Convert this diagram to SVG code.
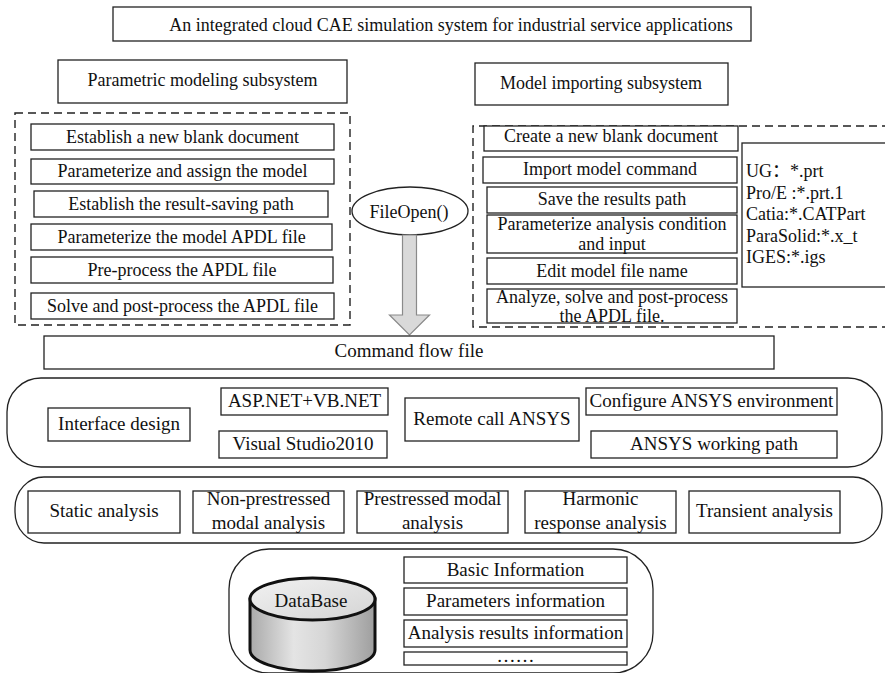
<svg xmlns="http://www.w3.org/2000/svg" width="885" height="673" viewBox="0 0 885 673">
<defs>
<style>
text{font-family:"Liberation Serif","Times New Roman","Noto Sans CJK SC",serif;fill:#111;}
.t{font-size:18px;text-anchor:middle;}
.l{font-size:19px;text-anchor:middle;}
.b{fill:#fff;stroke:#222;stroke-width:1.3;}
.d{fill:none;stroke:#222;stroke-width:1.4;stroke-dasharray:8,5;}
.c{fill:#fff;stroke:#222;stroke-width:1.3;}
</style>
<linearGradient id="side" x1="0" y1="0" x2="1" y2="0">
<stop offset="0" stop-color="#a9a9a9"/>
<stop offset="0.35" stop-color="#e4e4e4"/>
<stop offset="0.6" stop-color="#d6d6d6"/>
<stop offset="1" stop-color="#9e9e9e"/>
</linearGradient>
<linearGradient id="top" x1="0" y1="0" x2="1" y2="1">
<stop offset="0" stop-color="#f2f2f2"/>
<stop offset="1" stop-color="#d4d4d4"/>
</linearGradient>
</defs>
<rect width="885" height="673" fill="#fff"/>

<g id="title"><rect class="b" x="113" y="7" width="638" height="34"/><text class="t" x="451" y="31">An integrated cloud CAE simulation system for industrial service applications</text></g>

<g id="param-subsystem"><rect class="b" x="58" y="60" width="289" height="43"/><text class="t" x="202.5" y="86">Parametric modeling subsystem</text></g>
<g id="param-group"><rect class="d" x="15" y="113" width="335" height="212"/></g>
<g id="p1"><rect class="b" x="31" y="124" width="303" height="26"/><text class="t" x="182.5" y="143">Establish a new blank document</text></g>
<g id="p2"><rect class="b" x="31" y="159" width="303" height="25"/><text class="t" x="182.5" y="177">Parameterize and assign the model</text></g>
<g id="p3"><rect class="b" x="34" y="191" width="294" height="26"/><text class="t" x="181" y="210">Establish the result-saving path</text></g>
<g id="p4"><rect class="b" x="31" y="224" width="301" height="26"/><text class="t" x="181.5" y="243">Parameterize the model APDL file</text></g>
<g id="p5"><rect class="b" x="31" y="257" width="302" height="26"/><text class="t" x="182" y="276">Pre-process the APDL file</text></g>
<g id="p6"><rect class="b" x="31" y="293" width="303" height="26"/><text class="t" x="182.5" y="312">Solve and post-process the APDL file</text></g>

<g id="fileopen"><ellipse class="b" cx="410" cy="211" rx="58" ry="24"/><text class="t" x="409" y="218">FileOpen()</text></g>

<g id="import-subsystem"><rect class="b" x="475" y="63" width="253" height="42"/><text class="t" x="601" y="89">Model importing subsystem</text></g>
<g id="import-group"><path class="d" d="M890,126 H473 V327 H890"/></g>
<g id="m1"><rect class="b" x="484" y="126" width="254" height="25"/><text class="t" x="611" y="142">Create a new blank document</text></g>
<g id="m2"><rect class="b" x="483" y="157" width="254" height="26"/><text class="t" x="610" y="175">Import model command</text></g>
<g id="m3"><rect class="b" x="487" y="187" width="250" height="26"/><text class="t" x="612" y="205">Save the results path</text></g>
<g id="m4"><rect class="b" x="487" y="215" width="250" height="38"/><text class="t" x="612" y="230">Parameterize analysis condition</text><text class="t" x="612" y="250">and input</text></g>
<g id="m5"><rect class="b" x="487" y="258" width="250" height="26"/><text class="t" x="612" y="277">Edit model file name</text></g>
<g id="m6"><rect class="b" x="487" y="289" width="250" height="34"/><text class="t" x="612" y="303">Analyze, solve and post-process</text><text class="t" x="612" y="322">the APDL file.</text></g>
<g id="formats"><rect class="b" x="742" y="143" width="150" height="144"/>
<text font-size="18" x="746" y="177">UG：*.prt</text>
<text font-size="18" x="746" y="199">Pro/E :*.prt.1</text>
<text font-size="18" x="746" y="220">Catia:*.CATPart</text>
<text font-size="18" x="746" y="242">ParaSolid:*.x_t</text>
<text font-size="18" x="746" y="263">IGES:*.igs</text></g>

<g id="connectors"><path d="M402.5,235 V315 H389.5 L409.5,335 L429.5,315 H416.5 V235 Z" fill="#d9d9d9" stroke="#8a8a8a" stroke-width="1.2"/></g>

<g id="command-flow"><rect class="b" x="44" y="336" width="730" height="33"/><text class="l" x="409" y="357">Command flow file</text></g>

<g id="platform"><rect class="c" x="7" y="378" width="875" height="89" rx="34" ry="34"/></g>
<g id="interface"><rect class="b" x="48" y="408" width="142" height="33"/><text class="l" x="119" y="430">Interface design</text></g>
<g id="asp"><rect class="b" x="221" y="388" width="167" height="27"/><text class="l" x="304.5" y="407">ASP.NET+VB.NET</text></g>
<g id="vs"><rect class="b" x="219" y="431" width="168" height="27"/><text class="l" x="303" y="450">Visual Studio2010</text></g>
<g id="remote"><rect class="b" x="405" y="398" width="174" height="43"/><text class="l" x="492" y="425">Remote call ANSYS</text></g>
<g id="configure"><rect class="b" x="586" y="388" width="251" height="27"/><text class="l" x="711.5" y="407">Configure ANSYS environment</text></g>
<g id="workpath"><rect class="b" x="591" y="431" width="246" height="27"/><text class="l" x="714" y="450">ANSYS working path</text></g>

<g id="analyses"><rect class="c" x="15" y="477" width="867" height="66" rx="29" ry="31"/></g>
<g id="a1"><rect class="b" x="28" y="491" width="152" height="42"/><text class="l" x="104" y="517">Static analysis</text></g>
<g id="a2"><rect class="b" x="193" y="491" width="151" height="42"/><text class="l" x="268.5" y="505">Non-prestressed</text><text class="l" x="268.5" y="529">modal analysis</text></g>
<g id="a3"><rect class="b" x="357" y="491" width="151" height="42"/><text class="l" x="432.5" y="505">Prestressed modal</text><text class="l" x="432.5" y="529">analysis</text></g>
<g id="a4"><rect class="b" x="525" y="491" width="151" height="42"/><text class="l" x="600.5" y="505">Harmonic</text><text class="l" x="600.5" y="529">response analysis</text></g>
<g id="a5"><rect class="b" x="689" y="491" width="151" height="42"/><text class="l" x="764.5" y="517">Transient analysis</text></g>

<g id="db-group"><rect class="c" x="229" y="549" width="424" height="124" rx="40" ry="40"/></g>
<g id="database">
<path d="M250,599 V650 A62.5,21 0 0 0 375,650 V599 Z" fill="url(#side)" stroke="#111" stroke-width="3"/>
<ellipse cx="312.5" cy="599" rx="62.5" ry="21" fill="url(#top)" stroke="#111" stroke-width="3"/>
<text class="l" x="311" y="607">DataBase</text></g>
<g id="d1"><rect class="b" x="404" y="557" width="223" height="26"/><text class="l" x="515.5" y="576">Basic Information</text></g>
<g id="d2"><rect class="b" x="404" y="588" width="223" height="27"/><text class="l" x="515.5" y="607">Parameters information</text></g>
<g id="d3"><rect class="b" x="404" y="620" width="223" height="27"/><text class="l" x="515.5" y="639">Analysis results information</text></g>
<g id="d4"><rect class="b" x="404" y="652" width="223" height="13"/><text class="l" x="515.5" y="662">……</text></g>
</svg>
